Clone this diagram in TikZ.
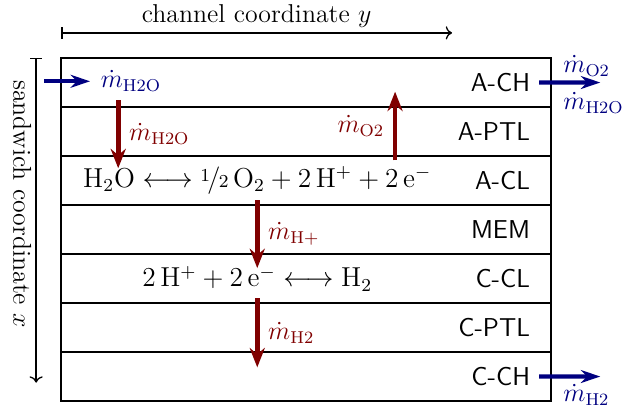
\documentclass[tikz,border=0pt,12pt]{standalone}
\usepackage{xcolor}
\colorlet{colFlux}{red!50!black}
\colorlet{colFeed}{blue!50!black}
\usepackage{amsmath, amssymb}
\usepackage{nicefrac}
\usepackage{tikz}
\usetikzlibrary{arrows.meta, calc}

\begin{document}
\begin{tikzpicture}[
		layerlab/.style={font=\sffamily, anchor=east},
		flux/.style={line width=2.2pt, colFlux, -{Stealth[length=9pt, width=7pt]}},
		feed/.style={line width=2pt, colFeed, -{Stealth[length=9pt, width=6pt]}},
		fluxlab/.style={colFlux},
		feedlab/.style={colFeed}
	]
	\useasboundingbox (-1.0,-5.714) rectangle (9.22,0.947);
	% layers
	\draw[thick] (0,0) rectangle (8,-5.6);
	\foreach \i in {1,...,6}
		\draw[thick] (0,-0.8*\i) -- (8,-0.8*\i);
	\foreach \lab [count=\i] in {A-CH, A-PTL, A-CL, MEM, C-CL, C-PTL, C-CH}
		\node[layerlab] (l\i) at (7.8,{-0.8*\i+0.4}) {\lab};
	% coordinate axes
	\coordinate (ch0) at (0,0.41);
	\coordinate (ch1) at (6.38,0.41);
	\draw[semithick, |->] (ch0) -- (ch1) node[midway, above, inner sep=2pt] (chlab) {channel coordinate $y$};
	\coordinate (sw0) at (-0.41,0);
	\coordinate (sw1) at (-0.41,-5.3);
	\draw[semithick, |->] (sw0) -- (sw1) node[pos=0.45, sloped, below, inner sep=2pt] (swlab) {sandwich coordinate $x$};
	% reactions
	\node[scale=1.06] (rxa) at (3.2,-2.0) {$\mathrm{H_2O} \longleftrightarrow \nicefrac{1}{2}\,\mathrm{O_2} + 2\,\mathrm{H^+} + 2\,\mathrm{e^-}$};
	\node[scale=1.06] (rxc) at (3.2,-3.6) {$2\,\mathrm{H^+} + 2\,\mathrm{e^-} \longleftrightarrow \mathrm{H_2}$};
	% fluxes through the sandwich
	\coordinate (wa0) at (0.93,-0.69);
	\coordinate (wa1) at (0.93,-1.80);
	\draw[flux] (wa0) -- (wa1) node[midway, right, fluxlab] (walab) {$\dot m_\mathrm{H2O}$};
	\coordinate (oa0) at (5.45,-1.67);
	\coordinate (oa1) at (5.45,-0.55);
	\draw[flux] (oa0) -- (oa1) node[midway, left, fluxlab] (oalab) {$\dot m_\mathrm{O2}$};
	\coordinate (hp0) at (3.2,-2.32);
	\coordinate (hp1) at (3.2,-3.43);
	\draw[flux] (hp0) -- (hp1) node[midway, right, fluxlab] (hplab) {$\dot m_\mathrm{H+}$};
	\coordinate (hc0) at (3.2,-3.92);
	\coordinate (hc1) at (3.2,-5.05);
	\draw[flux] (hc0) -- (hc1) node[midway, right, fluxlab] (hclab) {$\dot m_\mathrm{H2}$};
	% channel in- and outlets
	\coordinate (in0) at (-0.28,-0.38);
	\coordinate (in1) at (0.47,-0.38);
	\draw[feed] (in0) -- (in1) node[right, feedlab] (inlab) {$\dot m_\mathrm{H2O}$};
	\coordinate (aout) at (8.8,-0.4);
	\draw[feed] (l1.east) -- (aout);
	\node[feedlab, anchor=west] (aoutO) at (8.05,-0.13) {$\dot m_\mathrm{O2}$};
	\node[feedlab, anchor=west] (aoutW) at (8.05,-0.73) {$\dot m_\mathrm{H2O}$};
	\coordinate (cout) at (8.8,-5.2);
	\draw[feed] (l7.east) -- (cout);
	\node[feedlab, anchor=west] (coutH) at (8.05,-5.5) {$\dot m_\mathrm{H2}$};
\end{tikzpicture}
\end{document}
